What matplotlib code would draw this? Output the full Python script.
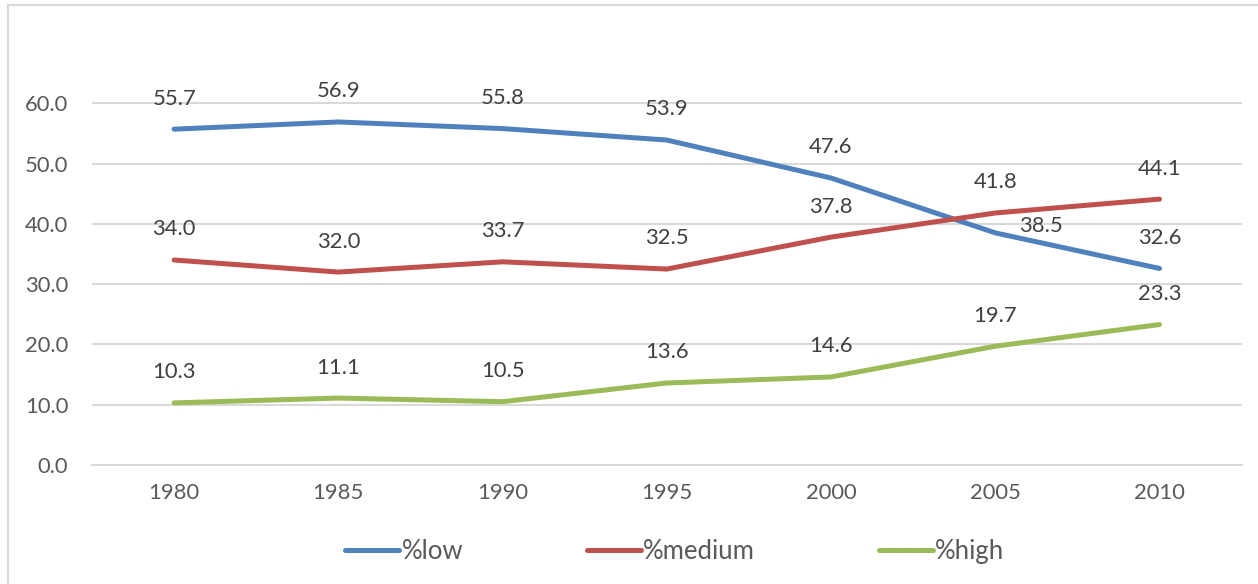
import matplotlib.pyplot as plt
from matplotlib.patches import Rectangle

years = ['1980', '1985', '1990', '1995', '2000', '2005', '2010']
pct_low = [55.7, 56.9, 55.8, 53.9, 47.6, 38.5, 32.6]
pct_medium = [34.0, 32.0, 33.7, 32.5, 37.8, 41.8, 44.1]
pct_high = [10.3, 11.1, 10.5, 13.6, 14.6, 19.7, 23.3]

plt.rcParams['font.family'] = ['Lato', 'DejaVu Sans']
fs = 15.8

fig = plt.figure(figsize=(12.58, 5.84), dpi=100)
ax = fig.add_axes([0.0731, 0.2038, 0.9139, 0.7226])

# outer chart frame (runs off the right and bottom edge)
fig.patches.append(Rectangle((8 / 1258, -0.05), 1.1, 1 - 4.5 / 584 + 0.05,
                             transform=fig.transFigure, fill=False,
                             edgecolor='#d9d9d9', lw=1.6))

x = list(range(len(years)))
series = [(pct_low, '#4F81BD', '%low'),
          (pct_medium, '#C0504D', '%medium'),
          (pct_high, '#9BBB59', '%high')]

for vals, col, name in series:
    ax.plot(x, vals, color=col, lw=3.6, solid_capstyle='round', label=name, zorder=3)
    for i, v in enumerate(vals):
        if name == '%low' and years[i] == '2005':
            ax.annotate(f'{v:.1f}', (i, v), xytext=(17, 5), textcoords='offset points',
                        ha='left', va='center', fontsize=fs, color='#404040')
        else:
            ax.annotate(f'{v:.1f}', (i, v), xytext=(0, 22), textcoords='offset points',
                        ha='center', va='center', fontsize=fs, color='#404040')

ax.set_xlim(-0.5, 6.5)
ax.set_ylim(0, 70)
ax.set_xticks(x)
ax.set_xticklabels(years)
ax.set_yticks(range(0, 61, 10))
ax.set_yticklabels([f'{t:.1f}' for t in range(0, 61, 10)])
ax.tick_params(axis='both', length=0, labelsize=fs, labelcolor='#595959')
ax.tick_params(axis='y', pad=17)
ax.tick_params(axis='x', pad=13)
ax.grid(axis='y', color='#d9d9d9', lw=1.5)
ax.set_axisbelow(True)
for s in ['top', 'right', 'left']:
    ax.spines[s].set_visible(False)
ax.spines['bottom'].set_color('#d9d9d9')
ax.spines['bottom'].set_linewidth(1.5)

leg = ax.legend(loc='center', bbox_to_anchor=(0.507, -0.204), ncol=3, frameon=False,
                fontsize=18.5, handlelength=2.1, handletextpad=0.1, columnspacing=4.8)
for t in leg.get_texts():
    t.set_color('#595959')

fig.savefig('out.png', dpi=100)
